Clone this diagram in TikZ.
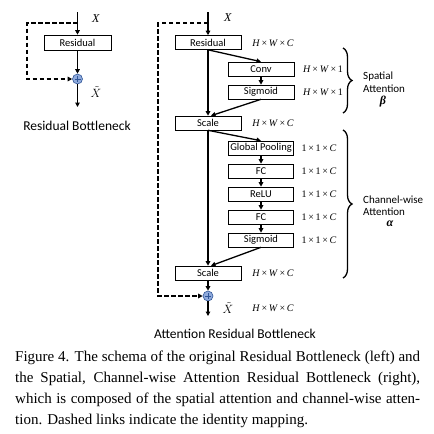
\documentclass[tikz,border=0pt]{standalone}
\usepackage{fontspec}
\setmainfont{Liberation Serif}
\newfontfamily\cf{Carlito}
\usetikzlibrary{arrows.meta,decorations.pathreplacing,calc}
\definecolor{pfill}{RGB}{143,170,220}
\definecolor{pline}{RGB}{47,85,151}
\newcommand{\hwc}[1]{\textit{H}\,×\,\textit{W}\,×\,#1}
\newcommand{\oneC}{1\,×\,1\,×\,\textit{C}}
\newcommand{\Xt}{$\tilde{X}$}
\begin{document}
\begin{tikzpicture}[x=1pt,y=-1pt,
 box/.style={draw,line width=0.6pt,minimum width=66pt,minimum height=14pt,inner sep=0pt,font=\cf\fontsize{10.5}{11}\selectfont},
 sbox/.style={box,minimum width=65pt},
 arr/.style={line width=1.3pt,-{Triangle[length=4.5pt,width=4.5pt]}},
 idlink/.style={line width=1.3pt,dash pattern=on 4.5pt off 2.5pt,-{Triangle[length=4.5pt,width=4.5pt]}},
 plus/.style={circle,draw=pline,fill=pfill,minimum size=10pt,inner sep=0pt,line width=0.6pt,
   path picture={\draw[line width=0.7pt]
     ([xshift=-3pt]path picture bounding box.center) -- ([xshift=3pt]path picture bounding box.center)
     ([yshift=-3pt]path picture bounding box.center) -- ([yshift=3pt]path picture bounding box.center);}},
 dimlab/.style={inner sep=0pt,font=\fontsize{10}{11}\selectfont},
 ttl/.style={inner sep=0pt,font=\cf\fontsize{13.5}{16}\selectfont},
 side/.style={inner sep=0pt,anchor=west,font=\cf\fontsize{11}{12}\selectfont},
 greek/.style={inner sep=0pt,font=\fontsize{12}{13}\selectfont},
 xlab/.style={inner sep=0pt,font=\fontsize{12}{13}\selectfont},
 captxt/.style={anchor=base west,inner sep=0pt,font=\fontsize{15}{21}\selectfont},
 brc/.style={decorate,decoration={brace,amplitude=9pt},line width=1.3pt}
]
\useasboundingbox (0,0) rectangle (434,434);

% ---------- left: residual bottleneck ----------
\coordinate (Ltop) at (77.5,12);
\coordinate (Lsplit) at (77.5,23);
\coordinate (Lc1) at (27,23);
\coordinate (Lc2) at (27,79);
\coordinate (Lend) at (77.5,107);
\node[box,minimum width=67pt,minimum height=15pt] (Lres) at (77.5,42.5) {Residual};
\node[plus] (Lplus) at (77.5,79) {};
\draw[arr] (Ltop) -- (Lres.north);
\draw[arr] (Lres.south) -- (Lplus.north);
\draw[arr] (Lplus.south) -- (Lend);
\draw[idlink] (Lsplit) -- (Lc1) -- (Lc2) -- (Lplus.west);
\node[xlab] (LX) at (96,19) {\textit{X}};
\node[xlab] (LXt) at (96,92) {\Xt};
\node[ttl] (Ltitle) at (77,126) {Residual Bottleneck};

% ---------- right: attention residual bottleneck ----------
\coordinate (Rtop) at (208,12);
\coordinate (Rsplit) at (208,23);
\coordinate (Rc1) at (158,23);
\coordinate (Rc2) at (158,296);
\coordinate (Rend) at (208,316);
\node[box] (Rres) at (208,42.5) {Residual};
\node[box] (conv) at (261,69) {Conv};
\node[box] (sig1) at (261,92) {Sigmoid};
\node[box] (scale1) at (208,123) {Scale};
\node[sbox] (gp) at (261,148) {Global Pooling};
\node[sbox] (fc1) at (261,171) {FC};
\node[sbox] (relu) at (261,194) {ReLU};
\node[sbox] (fc2) at (261,217) {FC};
\node[sbox] (sig2) at (261,240) {Sigmoid};
\node[box] (scale2) at (208,273) {Scale};
\node[plus] (Rplus) at (208,296) {};

\draw[arr] (Rtop) -- (Rres.north);
\draw[arr] (Rres.south) -- (scale1.north);
\draw[arr] (Rres.south) -- (conv.north);
\draw[arr] (conv.south) -- (sig1.north);
\draw[arr] (sig1.south) -- ([xshift=3pt]scale1.north);
\draw[arr] (scale1.south) -- (scale2.north);
\draw[arr] (scale1.south) -- (gp.north);
\draw[arr] (gp.south) -- (fc1.north);
\draw[arr] (fc1.south) -- (relu.north);
\draw[arr] (relu.south) -- (fc2.north);
\draw[arr] (fc2.south) -- (sig2.north);
\draw[arr] (sig2.south) -- ([xshift=3pt]scale2.north);
\draw[arr] (scale2.south) -- (Rplus.north);
\draw[arr] (Rplus.south) -- (Rend);
\draw[idlink] (Rsplit) -- (Rc1) -- (Rc2) -- (Rplus.west);

\node[xlab] (RX) at (228,18) {\textit{X}};
\node[xlab] (RXt) at (228,308) {\Xt};
\node[dimlab] (d1) at (273,43) {\hwc{\textit{C}}};
\node[dimlab] (d2) at (323,69) {\hwc{1}};
\node[dimlab] (d3) at (323,92) {\hwc{1}};
\node[dimlab] (d4) at (273,123) {\hwc{\textit{C}}};
\node[dimlab] (d5) at (319,148) {\oneC};
\node[dimlab] (d6) at (319,171) {\oneC};
\node[dimlab] (d7) at (319,194) {\oneC};
\node[dimlab] (d8) at (319,217) {\oneC};
\node[dimlab] (d9) at (319,240) {\oneC};
\node[dimlab] (d10) at (273,273) {\hwc{\textit{C}}};
\node[dimlab] (d11) at (273,308) {\hwc{\textit{C}}};

% braces
\coordinate (b1a) at (343,48);
\coordinate (b1b) at (343,113);
\coordinate (b2a) at (343,130);
\coordinate (b2b) at (343,278);
\draw[brc] (b1a) -- (b1b);
\draw[brc] (b2a) -- (b2b);
\node[side] (sp1) at (363,77) {Spatial};
\node[side] (sp2) at (363,89) {Attention};
\node[greek] (beta) at (383,102) {\textbf{\textit{β}}};
\node[side] (ch1) at (363,200) {Channel-wise};
\node[side] (ch2) at (363,212) {Attention};
\node[greek] (alpha) at (390,224) {\textbf{\textit{α}}};

\node[ttl] (Rtitle) at (235,334) {Attention Residual Bottleneck};

% ---------- caption ----------
\node[captxt] (c1) at (15,361) {\makebox[405pt][s]{Figure 4. The schema of the original Residual Bottleneck (left) and}};
\node[captxt] (c2) at (15,382) {\makebox[405pt][s]{the Spatial, Channel-wise Attention Residual Bottleneck (right),}};
\node[captxt] (c3) at (15,403) {\makebox[405pt][s]{which is composed of the spatial attention and channel-wise atten-}};
\node[captxt] (c4) at (15,424) {tion. Dashed links indicate the identity mapping.};
\end{tikzpicture}
\end{document}
